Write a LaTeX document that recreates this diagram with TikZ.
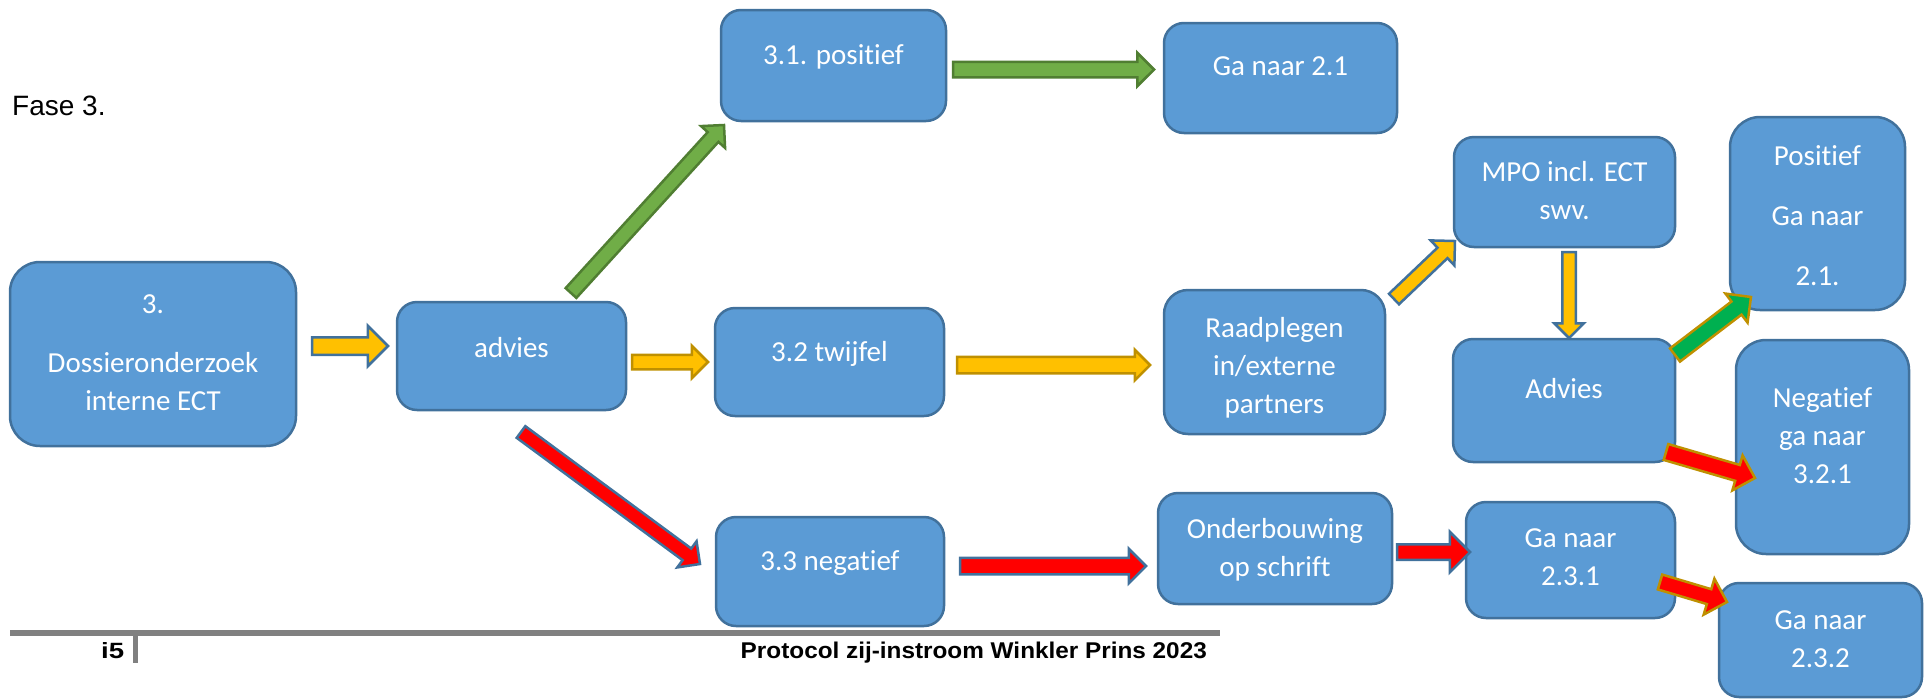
\documentclass[tikz,border=0pt]{standalone}
\usepackage{fontspec}
\usepackage{graphicx}
\setmainfont{Liberation Sans}
\newfontfamily\boxfont[Ligatures=CommonOff]{Carlito}
\usetikzlibrary{shapes.arrows,calc}

\definecolor{boxblue}{HTML}{5B9BD5}
\definecolor{edgeblue}{HTML}{41719C}
\definecolor{amber}{HTML}{FFC000}
\definecolor{goldedge}{HTML}{BF9000}
\definecolor{okgreen}{HTML}{70AD47}
\definecolor{okgreenedge}{HTML}{507E32}
\definecolor{brightgreen}{HTML}{00B050}
\definecolor{rulegray}{HTML}{808080}

\tikzset{
    box/.style={draw=edgeblue, fill=boxblue, line width=2.5pt, rounded corners=20pt,
        text=white, font=\boxfont\fontsize{29}{38}\selectfont, inner sep=0pt, outer sep=0pt},
    fat/.style 2 args={single arrow, inner xsep=0pt, inner ysep=#1, single arrow head extend=#2,
        minimum width=0pt, outer sep=0pt, line width=2.5pt}
}

% text of a box, first baseline raised by #1 above the centre
\newcommand\boxtext[2]{\raisebox{#1}[0pt][0pt]{\begin{tabular}[t]{@{}c@{}}#2\end{tabular}}}
% block arrow from #2 to #3
\newcommand\blockarrow[3]{%
    \path let \p1=#2, \p2=#3, \n1={veclen(\x2-\x1,\y2-\y1)} in #2 -- #3
        node [#1, sloped, allow upside down, pos=0, anchor=tail, minimum height=\n1] {};}

\begin{document}
\begin{tikzpicture}[x=1pt, y=-1pt]
    \useasboundingbox (0,0) rectangle (1932,699);

    \node [anchor=base west, inner sep=0pt, font=\fontsize{28}{34}\selectfont] (fase) at (12,115) {Fase 3.};

    \node [box, minimum width=286pt, minimum height=184pt, rounded corners=30pt] (b3) at (153,354) {\boxtext{41pt}{3.\\[21pt] Dossieronderzoek\\interne ECT}};
    \node [box, minimum width=229pt, minimum height=108pt] (advies) at (511.5,356) {\boxtext{-1pt}{advies}};
    \node [box, minimum width=225pt, minimum height=111pt] (pos) at (833.5,65.5) {\boxtext{1.5pt}{3.1. positief}};
    \node [box, minimum width=233pt, minimum height=110pt] (ga21) at (1280.5,78) {\boxtext{3pt}{Ga naar 2.1}};
    \node [box, minimum width=229pt, minimum height=108pt] (twijfel) at (829.5,362) {\boxtext{1pt}{3.2 twijfel}};
    \node [box, minimum width=228pt, minimum height=109pt] (neg) at (830,571.5) {\boxtext{1.5pt}{3.3 negatief}};
    \node [box, minimum width=221pt, minimum height=144pt, rounded corners=24pt] (raad) at (1274.5,362) {\boxtext{25pt}{Raadplegen\\in/externe\\partners}};
    \node [box, minimum width=234pt, minimum height=111pt] (onder) at (1275,548.5) {\boxtext{10.5pt}{Onderbouwing\\op schrift}};
    \node [box, minimum width=221pt, minimum height=110pt] (mpo) at (1564.5,192) {\boxtext{11pt}{MPO incl. ECT\\swv.}};
    \node [box, minimum width=222pt, minimum height=123pt] (adv2) at (1564,400.5) {\boxtext{2.5pt}{Advies}};
    \node [box, minimum width=175pt, minimum height=193pt, rounded corners=30pt] (posr) at (1817.5,213.5) {\boxtext{48.5pt}{Positief\\[22pt]Ga naar\\[22pt]2.1.}};
    \node [box, minimum width=173pt, minimum height=214pt, rounded corners=30pt] (negr) at (1822.5,447) {\boxtext{40pt}{Negatief\\ga naar\\3.2.1}};
    \node [box, minimum width=209pt, minimum height=116pt] (ga231) at (1570.5,560) {\boxtext{13pt}{Ga naar\\2.3.1}};
    \node [box, minimum width=203pt, minimum height=114pt] (ga232) at (1820.5,640) {\boxtext{11pt}{Ga naar\\2.3.2}};

    \blockarrow{fat={7.5pt}{11.5pt}, fill=amber, draw=edgeblue}{($(b3.east)+(16,-8)$)}{($(advies.west)+(-9,-10)$)}
    \blockarrow{fat={6pt}{9pt}, fill=okgreen, draw=okgreenedge}{($(advies.north)+(59.5,-9)$)}{($(pos.south west)+(3,4)$)}
    \blockarrow{fat={6.5pt}{9pt}, fill=okgreen, draw=okgreenedge}{($(pos.east)+(7,4)$)}{($(ga21.west)+(-10,-8.5)$)}
    \blockarrow{fat={6pt}{9pt}, fill=amber, draw=goldedge}{($(advies.east)+(6,6)$)}{($(twijfel.west)+(-7,0)$)}
    \blockarrow{fat={7pt}{7pt}, fill=amber, draw=goldedge}{($(twijfel.east)+(13,3)$)}{($(raad.west)+(-14,3)$)}
    \blockarrow{fat={6pt}{9pt}, fill=red, draw=edgeblue}{($(advies.south)+(9.5,22)$)}{($(neg.west)+(-16,-7.5)$)}
    \blockarrow{fat={7pt}{9pt}, fill=red, draw=edgeblue}{($(neg.east)+(16,-5.5)$)}{($(onder.west)+(-12,17.5)$)}
    \blockarrow{fat={6pt}{10pt}, fill=amber, draw=edgeblue}{($(raad.north east)+(9,9)$)}{($(mpo.south west)+(1,-6)$)}
    \blockarrow{fat={5.5pt}{8pt}, fill=amber, draw=edgeblue}{($(mpo.south)+(4.5,5)$)}{($(adv2.north)+(5,-1)$)}
    \blockarrow{fat={7pt}{10pt}, fill=brightgreen, draw=goldedge}{($(adv2.north east)+(0,16)$)}{($(posr.south west)+(21,-13)$)}
    \blockarrow{fat={7pt}{10pt}, fill=red, draw=goldedge}{($(adv2.south east)+(-9,-10)$)}{($(negr.west)+(19,31)$)}
    \blockarrow{fat={6.5pt}{12.5pt}, fill=red, draw=edgeblue}{($(onder.east)+(5,3.5)$)}{($(ga231.west)+(4,-8)$)}
    \blockarrow{fat={6.5pt}{11pt}, fill=red, draw=goldedge}{($(ga231.east)+(-15,22)$)}{($(ga232.north west)+(8,19)$)}

    % footer
    \fill [rulegray] (10,630) rectangle (1220,636);
    \fill [rulegray] (133,636) rectangle (138,663);
    \node [anchor=base west, inner sep=0pt] (pagenr) at (101,658) {\resizebox{23pt}{16pt}{\bfseries i5}};
    \node [anchor=base east, inner sep=0pt] (footer) at (1207,658) {\resizebox{466pt}{16.5pt}{\bfseries Protocol zij-instroom Winkler Prins 2023}};
\end{tikzpicture}
\end{document}
